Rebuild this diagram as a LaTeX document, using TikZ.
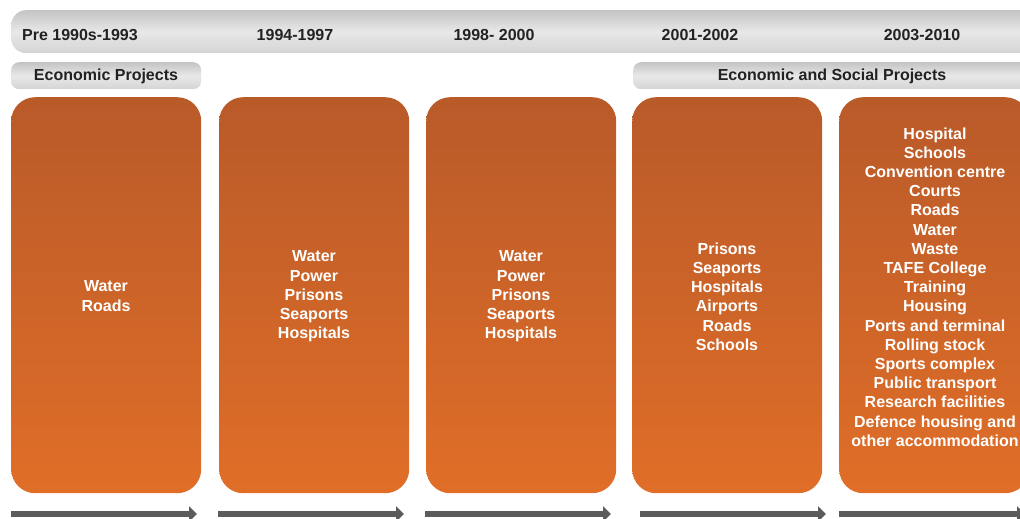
\documentclass[tikz,border=0pt]{standalone}
\usepackage{fontspec}
\setmainfont{Liberation Sans}
\usetikzlibrary{arrows.meta}
\definecolor{otop}{HTML}{B95A29}
\definecolor{obot}{HTML}{E06E28}
\definecolor{gtop}{HTML}{C4C4C4}
\definecolor{gmid}{HTML}{E8E8E8}
\definecolor{gbot}{HTML}{D4D4D4}
\definecolor{arr}{HTML}{5C5C5C}
\definecolor{txt}{HTML}{222222}
\tikzset{
  graybar/.style={top color=gtop, bottom color=gbot, middle color=gmid, draw=none, inner sep=0pt},
  orangebox/.style={top color=otop, bottom color=obot, draw=none, rounded corners=24pt, minimum width=190pt, minimum height=396pt, inner sep=0pt, anchor=north west},
  hdrtext/.style={font=\bfseries\fontsize{16}{18}\selectfont, text=txt, inner sep=0pt},
  boxtext/.style={font=\bfseries\fontsize{16}{19.2}\selectfont, text=white, align=center, inner sep=0pt},
  timearrow/.style={draw=arr, line width=6pt, -{Triangle[length=8pt,width=15pt]}}
}
\begin{document}
\begin{tikzpicture}[x=1pt,y=-1pt]
\useasboundingbox (0,0) rectangle (1020,519);
\clip (0,0) rectangle (1020,519);
% header bar
\node[graybar, rounded corners=15pt, minimum width=1040pt, minimum height=43pt, anchor=north west] (hdr) at (11,10) {};
\node[hdrtext] (y1) at (80,35) {Pre 1990s-1993};
\node[hdrtext] (y2) at (295,35) {1994-1997};
\node[hdrtext] (y3) at (494,35) {1998- 2000};
\node[hdrtext] (y4) at (700,35) {2001-2002};
\node[hdrtext] (y5) at (922,35) {2003-2010};
% project bars
\node[graybar, rounded corners=8pt, minimum width=190pt, minimum height=27pt, anchor=north west] (econ) at (11,62) {};
\node[hdrtext] (econt) at (106,76) {Economic Projects};
\node[graybar, rounded corners=8pt, minimum width=420pt, minimum height=27pt, anchor=north west] (econsoc) at (633,62) {};
\node[hdrtext] (econsoct) at (832,76) {Economic and Social Projects};
% orange boxes
\node[orangebox] (b1) at (11,97) {};
\node[orangebox] (b2) at (219,97) {};
\node[orangebox] (b3) at (426,97) {};
\node[orangebox] (b4) at (632,97) {};
\node[orangebox] (b5) at (839,97) {};
\node[boxtext] (t1) at (106,296) {Water\\Roads};
\node[boxtext] (t2) at (314,296.5) {Water\\Power\\Prisons\\Seaports\\Hospitals};
\node[boxtext] (t3) at (521,296.5) {Water\\Power\\Prisons\\Seaports\\Hospitals};
\node[boxtext] (t4) at (727,296.5) {Prisons\\Seaports\\Hospitals\\Airports\\Roads\\Schools};
\node[boxtext] (t5) at (935,287) {Hospital\\Schools\\Convention centre\\Courts\\Roads\\Water\\Waste\\TAFE College\\Training\\Housing\\Ports and terminal\\Rolling stock\\Sports complex\\Public transport\\Research facilities\\Defence housing and\\other accommodation};
% arrows
\coordinate (a1s) at (11,514); \coordinate (a1e) at (197,514);
\coordinate (a2s) at (218,514); \coordinate (a2e) at (404,514);
\coordinate (a3s) at (425,514); \coordinate (a3e) at (611,514);
\coordinate (a4s) at (640,514); \coordinate (a4e) at (826,514);
\coordinate (a5s) at (839,514); \coordinate (a5e) at (1025,514);
\draw[timearrow] (a1s) -- (a1e);
\draw[timearrow] (a2s) -- (a2e);
\draw[timearrow] (a3s) -- (a3e);
\draw[timearrow] (a4s) -- (a4e);
\draw[timearrow] (a5s) -- (a5e);
\end{tikzpicture}
\end{document}
